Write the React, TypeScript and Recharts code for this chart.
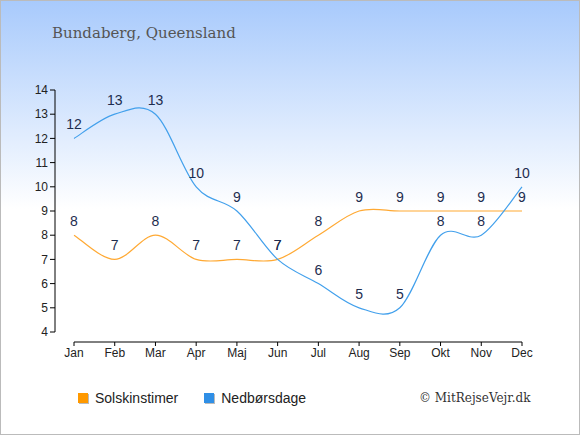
import React from "react";
import {
	LabelList,
	Line,
	LineChart,
	XAxis,
	YAxis,
	usePlotArea,
} from "recharts";

const months = ["Jan", "Feb", "Mar", "Apr", "Maj", "Jun", "Jul", "Aug", "Sep", "Okt", "Nov", "Dec"];
const sunHours = [8, 7, 8, 7, 7, 7, 8, 9, 9, 9, 9, 9];
const rainDays = [12, 13, 13, 10, 9, 7, 6, 5, 5, 8, 8, 10];
const yTicks = [4, 5, 6, 7, 8, 9, 10, 11, 12, 13, 14];

const data = months.map((month, i) => ({
	month,
	sun: sunHours[i],
	rain: rainDays[i],
}));

const sans = "Liberation Sans, Arial, sans-serif";

// catmull-rom spline, like the original chart's smoothing
function catmullRom(context: any) {
	let pts: number[][] = [];
	return {
		areaStart() {},
		areaEnd() {},
		lineStart() {
			pts = [];
		},
		point(x: number, y: number) {
			pts.push([x, y]);
		},
		lineEnd() {
			if (!pts.length) return;
			context.moveTo(pts[0][0], pts[0][1]);
			for (let i = 0; i < pts.length - 1; i++) {
				const p0 = pts[i - 1] || pts[i];
				const p1 = pts[i];
				const p2 = pts[i + 1];
				const p3 = pts[i + 2] || pts[i + 1];
				context.bezierCurveTo(
					p1[0] + (p2[0] - p0[0]) / 6,
					p1[1] + (p2[1] - p0[1]) / 6,
					p2[0] - (p3[0] - p1[0]) / 6,
					p2[1] - (p3[1] - p1[1]) / 6,
					p2[0],
					p2[1],
				);
			}
		},
	};
}

function AxisLines() {
	const plot = usePlotArea();
	if (!plot) return null;
	const bottom = plot.y + plot.height;
	return (
		<g stroke="#000" strokeWidth={1}>
			<line x1={plot.x} y1={plot.y} x2={plot.x} y2={bottom - 10} />
			<line x1={plot.x + 19} y1={bottom} x2={plot.x + plot.width} y2={bottom} />
		</g>
	);
}

const legendItems = [
	{ name: "Solskinstimer", color: "#ff9900" },
	{ name: "Nedbørsdage", color: "#2f8fe6" },
];

export default function App() {
	return (
		<div
			style={{
				position: "relative",
				width: 580,
				height: 435,
				boxSizing: "border-box",
				border: "1px solid #bbb",
				background: "linear-gradient(to bottom, #a8cafc 0%, #ffffff 48%, #ffffff 100%)",
				overflow: "hidden",
			}}
		>
			<style>{"body{margin:0}"}</style>
			<div
				style={{
					position: "absolute",
					left: 51,
					top: 23,
					fontFamily: "DejaVu Serif, serif",
					fontSize: 15,
					color: "#555",
				}}
			>
				Bundaberg, Queensland
			</div>
			<div
				style={{
					position: "absolute",
					left: 418,
					top: 390,
					fontFamily: "DejaVu Serif, serif",
					fontSize: 12,
					color: "#333",
				}}
			>
				© MitRejseVejr.dk
			</div>
			<div
				style={{
					position: "absolute",
					left: 77,
					top: 389,
					display: "flex",
					fontFamily: sans,
					fontSize: 14,
					color: "#222",
				}}
			>
				{legendItems.map((it) => (
					<div key={it.name} style={{ display: "flex", alignItems: "center", marginRight: 26 }}>
						<span
							style={{
								display: "inline-block",
								width: 10,
								height: 10,
								background: it.color,
								boxShadow: "1px 1px 0 #bbb",
								marginRight: 7,
							}}
						/>
						{it.name}
					</div>
				))}
			</div>
			<LineChart
				width={578}
				height={433}
				data={data}
				margin={{ top: 89, right: 57, bottom: 62, left: 24 }}
				style={{ position: "absolute", left: 0, top: 0 }}
			>
				<XAxis
					dataKey="month"
					padding={{ left: 19, right: 0 }}
					axisLine={false}
					tickLine={{ stroke: "#000" }}
					tickSize={4}
					tick={{ fontSize: 12, fill: "#222", fontFamily: sans }}
					interval={0}
					height={30}
				/>
				<YAxis
					domain={[4, 14]}
					ticks={yTicks}
					padding={{ top: 0, bottom: 10 }}
					axisLine={false}
					tickLine={{ stroke: "#000" }}
					tickSize={5}
					tick={{ fontSize: 12, fill: "#222", fontFamily: sans }}
					width={30}
					interval={0}
				/>
				<AxisLines />
				<Line
					type={catmullRom as any}
					dataKey="sun"
					name="Solskinstimer"
					stroke="#ffa933"
					strokeWidth={1.2}
					dot={false}
					isAnimationActive={false}
				>
					<LabelList
						dataKey="sun"
						position="top"
						offset={9}
						fill="#1e2d4f"
						fontSize={14}
						fontFamily={sans}
					/>
				</Line>
				<Line
					type={catmullRom as any}
					dataKey="rain"
					name="Nedbørsdage"
					stroke="#42a0ec"
					strokeWidth={1.2}
					dot={false}
					isAnimationActive={false}
				>
					<LabelList
						dataKey="rain"
						position="top"
						offset={9}
						fill="#1e2d4f"
						fontSize={14}
						fontFamily={sans}
					/>
				</Line>
			</LineChart>
		</div>
	);
}
